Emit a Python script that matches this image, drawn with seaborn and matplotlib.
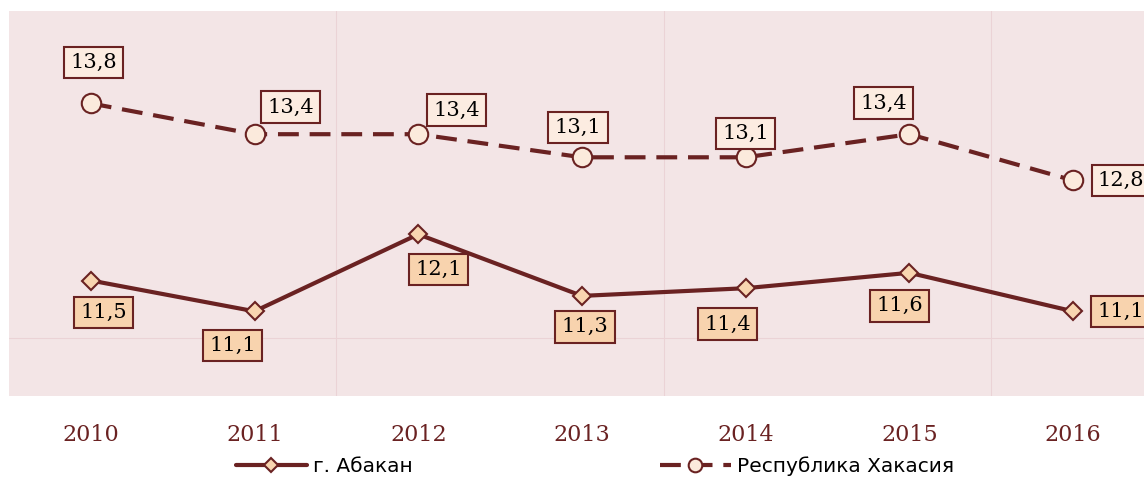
import pandas as pd
import matplotlib.pyplot as plt
import seaborn as sns

# данные с графика
years = [2010, 2011, 2012, 2013, 2014, 2015, 2016]
abakan = [11.5, 11.1, 12.1, 11.3, 11.4, 11.6, 11.1]
khakasia = [13.8, 13.4, 13.4, 13.1, 13.1, 13.4, 12.8]
series_names = ['г. Абакан', 'Республика Хакасия']

# смещения подписей (пиксели)
abakan_offsets = [(13, -32), (-22, -34), (20, -35), (3, -31), (-18, -36), (-10, -33), (48, 0)]
khakasia_offsets = [(3, 41), (36, 27), (38, 24), (-4, 30), (0, 24), (-26, 31), (48, 0)]

maroon = '#6a2222'
bg = '#f3e5e6'

sns.set_style('white')
plt.rcParams['font.family'] = ['DejaVu Sans']

fig = plt.figure(figsize=(11.44, 4.79), dpi=100)
ax = fig.add_axes([9 / 1144, 1 - 396 / 479, 1135 / 1144, 385 / 479])
ax.set_facecolor(bg)

df = pd.DataFrame({'year': years, 'abakan': abakan, 'khakasia': khakasia})

# фоновые линии
ax.axhline(10.75, color='#ebd3d6', lw=0.8, zorder=0)
for xv in [2011.5, 2013.5, 2015.5]:
    ax.axvline(xv, color='#ebd3d6', lw=0.8, zorder=0)

sns.lineplot(data=df, x='year', y='abakan', ax=ax, color=maroon, lw=3,
             marker='D', markersize=9.5, markerfacecolor='#f8d5b0',
             markeredgecolor=maroon, markeredgewidth=1.5, label=series_names[0])
sns.lineplot(data=df, x='year', y='khakasia', ax=ax, color=maroon, lw=3,
             marker='o', markersize=14, markerfacecolor='#fbeadc',
             markeredgecolor=maroon, markeredgewidth=1.5, label=series_names[1])
ax.lines[-1].set_dashes((5, 2.6))

def add_labels(values, offsets, face):
    for x, v, off in zip(years, values, offsets):
        ax.annotate(f'{v:.1f}'.replace('.', ','), (x, v), xytext=off,
                    textcoords='offset pixels', ha='center', va='center',
                    fontsize=15, family='DejaVu Serif', color='black',
                    bbox=dict(boxstyle='square,pad=0.3', fc=face, ec=maroon, lw=1.5),
                    zorder=5)

add_labels(abakan, abakan_offsets, '#f8d3ae')
add_labels(khakasia, khakasia_offsets, '#fcece1')

ax.set_xlim(2009.5, 2009.5 + 1135 / 163.7)
ax.set_ylim(10, 15)
ax.set_xticks(years)
ax.set_xticklabels([str(y) for y in years], family='DejaVu Serif', fontsize=16, color=maroon)
ax.set_yticks([])
ax.tick_params(axis='x', length=0, pad=20)
ax.set_xlabel('')
ax.set_ylabel('')
for s in ax.spines.values():
    s.set_visible(False)

ax.get_legend().remove()
handles, labels = ax.get_legend_handles_labels()
leg = fig.legend(handles, labels, loc='center', bbox_to_anchor=(0.52, 0.027), ncol=2,
                 frameon=False, fontsize=14.5, handlelength=3.5, handletextpad=0.3,
                 columnspacing=12.3, markerscale=0.7)
for t in leg.get_texts():
    t.set_color('black')

fig.savefig('out.png', dpi=100)
